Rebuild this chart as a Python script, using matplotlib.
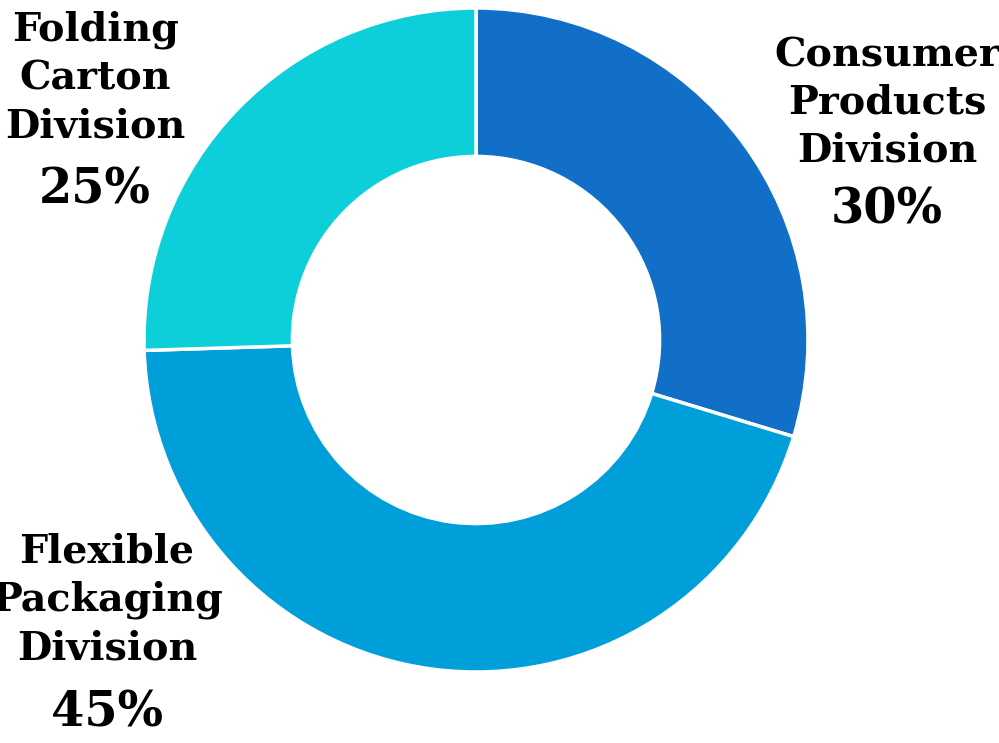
import matplotlib.pyplot as plt

# division share of sales (slice sizes read from the ring, labels as printed)
divisions = ["Consumer\nProducts\nDivision", "Flexible\nPackaging\nDivision", "Folding\nCarton\nDivision"]
shares = [29.7, 44.8, 25.5]
pct_labels = ["30%", "45%", "25%"]
colors = ["#116fc7", "#009fda", "#0dcfd9"]

W, H = 999, 743
fig = plt.figure(figsize=(W / 100, H / 100), dpi=100)
ax = fig.add_axes([0, 0, 1, 1])

cx, cy, r = 476, H - 340, 332
ax.pie(shares, colors=colors, startangle=90, counterclock=False,
       center=(cx, cy), radius=r, frame=True,
       wedgeprops=dict(width=r * 0.447, edgecolor="white", linewidth=2.5))
ax.set_xlim(0, W)
ax.set_ylim(0, H)
ax.axis("off")

# label positions (pixels from top-left): name block center, percent center
label_pos = [(887, 103, 210), (107, 600, 713), (95, 78, 190)]
font = ["DejaVu Serif"]
for name, pct, (x, yname, ypct) in zip(divisions, pct_labels, label_pos):
    ax.text(x, H - yname, name, ha="center", va="center", fontsize=28.5,
            fontweight="bold", family=font, linespacing=1.33)
    ax.text(x, H - ypct, pct, ha="center", va="center", fontsize=34.5,
            fontweight="bold", family=font)

fig.savefig("out.png", dpi=100)
